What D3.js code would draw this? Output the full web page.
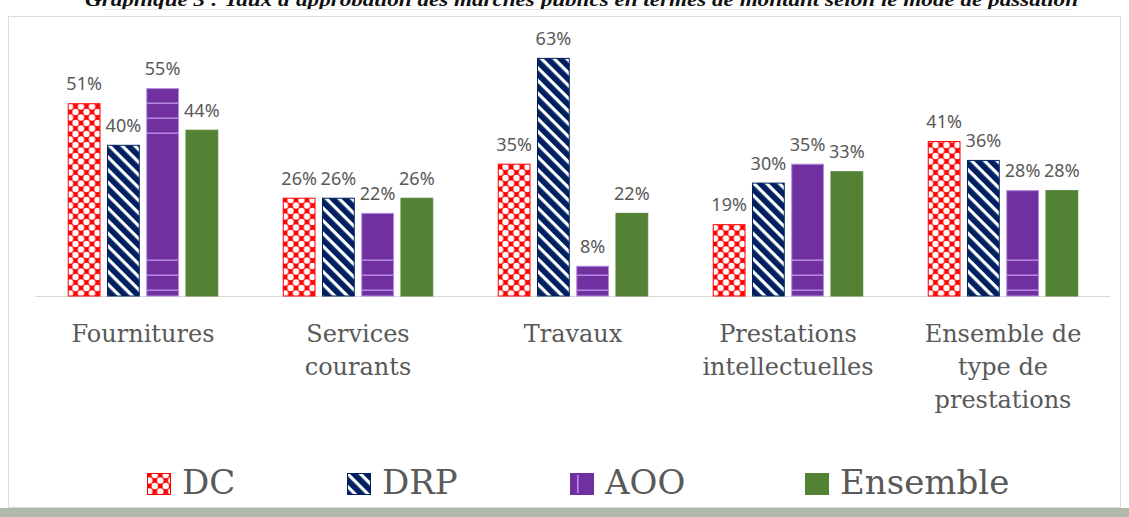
<!DOCTYPE html>
<html>
<head>
<meta charset="utf-8">
<script src="https://cdn.jsdelivr.net/npm/d3@7"></script>
<style>
  body { margin: 0; background: #fff; }
  svg { display: block; }
</style>
</head>
<body>
<svg id="chart" width="1129" height="517"></svg>
<script>
// data
const categories = ["Fournitures", "Services courants", "Travaux", "Prestations intellectuelles", "Ensemble de type de prestations"];
const categoryLines = [["Fournitures"], ["Services", "courants"], ["Travaux"], ["Prestations", "intellectuelles"], ["Ensemble de", "type de", "prestations"]];
const seriesNames = ["DC", "DRP", "AOO", "Ensemble"];
const dcValues = [51, 26, 35, 19, 41];
const drpValues = [40, 26, 63, 30, 36];
const aooValues = [55, 22, 8, 35, 28];
const ensembleValues = [44, 26, 22, 33, 28];
const titleText = "Graphique 3 : Taux d'approbation des marchés publics en termes de montant selon le mode de passation";

const seriesValues = { "DC": dcValues, "DRP": drpValues, "AOO": aooValues, "Ensemble": ensembleValues };

const data = categories.map((c, i) => ({
    cat: c,
    values: seriesNames.map(s => ({ key: s, value: seriesValues[s][i] }))
}));

const svg = d3.select("#chart");
const textGray = "#595959";

// title, cut off by the top of the picture (as in the source)
svg.append("text")
    .attr("x", 85)
    .attr("y", 6)
    .attr("textLength", 993)
    .attr("lengthAdjust", "spacingAndGlyphs")
    .style("font-family", "'Liberation Serif', serif")
    .style("font-weight", "bold")
    .style("font-style", "italic")
    .style("font-size", "19px")
    .style("fill", "#111")
    .text(titleText);

svg.append("line")
    .attr("x1", 105).attr("x2", 1072)
    .attr("y1", 9.5).attr("y2", 9.5)
    .style("stroke", "#e2e2e2");

// frame + bottom shadow
svg.append("rect")
    .attr("x", 8.5).attr("y", 16.5)
    .attr("width", 1112).attr("height", 491)
    .style("fill", "none")
    .style("stroke", "#dcdcdc");

svg.append("rect")
    .attr("x", 0).attr("y", 508)
    .attr("width", 1129).attr("height", 9)
    .style("fill", "#b1b9ab");

// scales
const x0 = d3.scaleBand()
    .domain(categories)
    .range([35.5, 1110.5])
    .paddingInner(0.3)
    .paddingOuter(0.15);

const x1 = d3.scaleBand()
    .domain(seriesNames)
    .range([0, x0.bandwidth()])
    .paddingInner(0.165);

const y = d3.scaleLinear()
    .domain([0, 70])
    .range([296, 31.4]);

// patterns
const defs = svg.append("defs");

const dcPat = defs.append("pattern")
    .attr("id", "pat-dc")
    .attr("patternUnits", "userSpaceOnUse")
    .attr("width", 11).attr("height", 11)
    .attr("x", x0(categories[0]) + x1("DC") + 6)
    .attr("y", 2);
dcPat.append("rect").attr("width", 11).attr("height", 11).style("fill", "#ff0000");
[[0, 0], [11, 0], [0, 11], [11, 11], [5.5, 5.5]].forEach(p => {
    dcPat.append("circle")
        .attr("cx", p[0]).attr("cy", p[1]).attr("r", 3.2)
        .style("fill", "#fff");
});

const drpPat = defs.append("pattern")
    .attr("id", "pat-drp")
    .attr("patternUnits", "userSpaceOnUse")
    .attr("width", 9).attr("height", 9)
    .attr("patternTransform", "rotate(45)");
drpPat.append("rect").attr("width", 9).attr("height", 9).style("fill", "#002060");
drpPat.append("rect").attr("x", 0).attr("y", 0).attr("width", 9).attr("height", 3.2).style("fill", "#fff");

// AOO: light vertical line in the middle of each bar, groups of horizontal lines
const aooPat = defs.append("pattern")
    .attr("id", "pat-aoo")
    .attr("patternUnits", "userSpaceOnUse")
    .attr("width", x0.step())
    .attr("height", 157)
    .attr("x", x0(categories[0]) + x1("AOO") + x1.bandwidth() / 2 - 1)
    .attr("y", 102);
aooPat.append("rect").attr("width", x0.step()).attr("height", 157).style("fill", "#7030a0");
aooPat.append("rect").attr("x", 0).attr("y", 0).attr("width", 1.6).attr("height", 157).style("fill", "#b98ee6");
[0.5, 15.5, 30.5].forEach(v => {
    aooPat.append("rect").attr("x", 0).attr("y", v).attr("width", x0.step()).attr("height", 1.4).style("fill", "#b98ee6");
});

const fills = { "DC": "url(#pat-dc)", "DRP": "url(#pat-drp)", "AOO": "url(#pat-aoo)", "Ensemble": "#548235" };
const strokes = { "DC": "#ff0000", "DRP": "#002060", "AOO": "#b58ae0", "Ensemble": "#548235" };

// baseline
svg.append("line")
    .attr("x1", 35.5).attr("x2", 1110.5)
    .attr("y1", y(0) + 0.5).attr("y2", y(0) + 0.5)
    .style("stroke", "#d9d9d9")
    .style("stroke-width", 1.2);

// bars
const groups = svg.append("g")
    .selectAll("g")
    .data(data)
    .join("g")
    .attr("transform", d => `translate(${x0(d.cat)},0)`);

groups.selectAll("rect")
    .data(d => d.values)
    .join("rect")
    .attr("x", d => x1(d.key) + 0.5)
    .attr("y", d => y(d.value) + 0.5)
    .attr("width", x1.bandwidth() - 1)
    .attr("height", d => y(0) - y(d.value) - 0.5)
    .style("fill", d => fills[d.key])
    .style("stroke", d => strokes[d.key])
    .style("stroke-width", 1);

// value labels
groups.selectAll("text.val")
    .data(d => d.values)
    .join("text")
    .attr("class", "val")
    .attr("x", d => x1(d.key) + x1.bandwidth() / 2)
    .attr("y", d => y(d.value) - 13)
    .attr("text-anchor", "middle")
    .style("font-family", "'Noto Sans', sans-serif")
    .style("font-size", "18px")
    .style("fill", textGray)
    .text(d => d.value + "%");

// category labels
categories.forEach((c, i) => {
    const t = svg.append("text")
        .attr("text-anchor", "middle")
        .style("font-family", "'DejaVu Serif', serif")
        .style("font-size", "24px")
        .style("fill", textGray);
    categoryLines[i].forEach((line, j) => {
        t.append("tspan")
            .attr("x", x0(c) + x0.bandwidth() / 2)
            .attr("y", 342 + j * 33)
            .text(line);
    });
});

// legend
const legendX = [147, 347, 570, 805];
const legend = svg.append("g")
    .selectAll("g")
    .data(seriesNames)
    .join("g")
    .attr("transform", (d, i) => `translate(${legendX[i]},0)`);

legend.append("rect")
    .attr("x", 0.5).attr("y", 473.5)
    .attr("width", 23).attr("height", 21)
    .style("fill", d => d === "AOO" ? "#7030a0" : fills[d])
    .style("stroke", d => strokes[d] === "#b58ae0" ? "#7030a0" : strokes[d]);

legend.filter(d => d === "AOO")
    .append("rect")
    .attr("x", 7).attr("y", 475)
    .attr("width", 1.6).attr("height", 18)
    .style("fill", "#b98ee6");

legend.append("text")
    .attr("x", 35)
    .attr("y", 494)
    .style("font-family", "'DejaVu Serif', serif")
    .style("font-size", "34px")
    .style("fill", textGray)
    .text(d => d);
</script>
</body>
</html>
